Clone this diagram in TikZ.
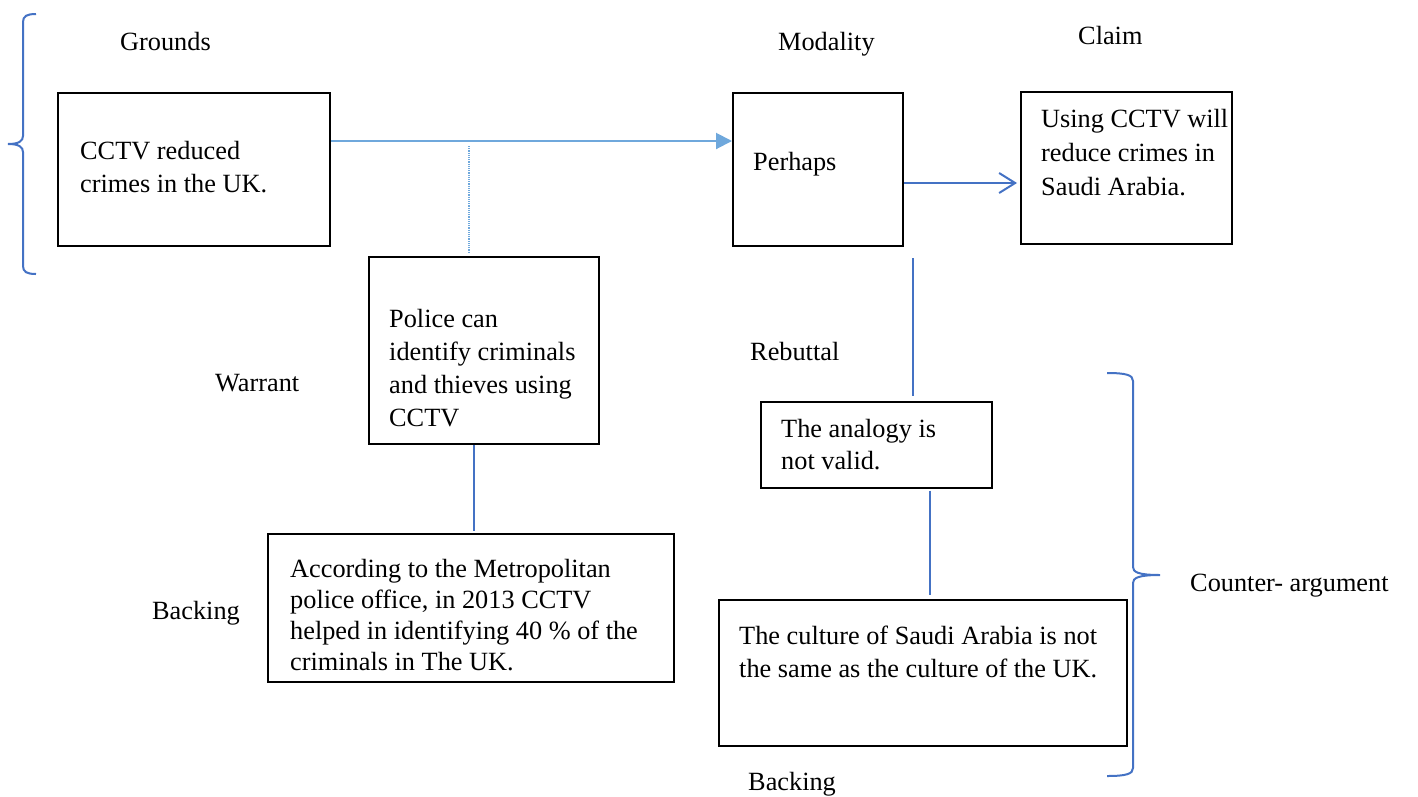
\documentclass[tikz,border=0pt]{standalone}
\usepackage{fontspec}
\setmainfont{Liberation Serif}
\usetikzlibrary{arrows.meta}

\definecolor{linkblue}{HTML}{4472C4}
\definecolor{flowblue}{HTML}{6FA8DC}

\begin{document}
\begin{tikzpicture}[x=1pt,y=-1pt,
  every node/.style={font=\fontsize{26.3}{33}\selectfont, inner sep=0pt},
  box/.style={draw=black, line width=2pt, minimum width=#1},
  % multi-line texts are placed by the baseline of their last line
  txt/.style={anchor=base west, align=left},
  lbl/.style={anchor=base west},
  flow/.style={draw=flowblue, line width=2pt, -{Triangle[length=16pt,width=16pt]}},
  hint/.style={draw=flowblue, line width=1.2pt, densely dotted},
  link/.style={draw=linkblue, line width=2pt},
  openarrow/.style={draw=linkblue, line width=2pt, -{Straight Barb[length=16pt,width=20pt,line width=2pt]}},
  bracket/.style={draw=linkblue, line width=2pt}
]
\useasboundingbox (0,0) rectangle (1418,796);

% boxes
\node[box=272pt, minimum height=153pt] (g)  at (194,169.5) {};
\node[box=170pt, minimum height=153pt] (m)  at (818,169.5) {};
\node[box=211pt, minimum height=152pt] (c)  at (1126.5,168) {};
\node[box=230pt, minimum height=187pt] (w)  at (484,350.5) {};
\node[box=406pt, minimum height=148pt] (b)  at (471,608) {};
\node[box=231pt, minimum height=86pt]  (r)  at (876.5,444.5) {};
\node[box=408pt, minimum height=146pt] (b2) at (923,673) {};

% box texts
\node[txt] (gt) at (80,192) {CCTV reduced\\crimes in the UK.};
\node[txt] (mt) at (753,170) {Perhaps};
\node[txt, font=\fontsize{26.3}{34}\selectfont] (ct) at (1041,195) {Using CCTV will\\reduce crimes in\\Saudi Arabia.};
\node[txt] (wt) at (389,426) {Police can\\identify criminals\\and thieves using\\CCTV};
\node[txt, font=\fontsize{26.3}{31}\selectfont] (bt) at (290,670) {According to the Metropolitan\\police office, in 2013 CCTV\\helped in identifying 40 \% of the\\criminals in The UK.};
\node[txt, font=\fontsize{26.3}{32}\selectfont] (rt) at (781,469) {The analogy is\\not valid.};
\node[txt] (b2t) at (739,677) {The culture of Saudi Arabia is not\\the same as the culture of the UK.};

% labels
\node[lbl] (lg)  at (120,50)  {Grounds};
\node[lbl] (lm)  at (778,50)  {Modality};
\node[lbl] (lc)  at (1078,44) {Claim};
\node[lbl] (lw)  at (215,391) {Warrant};
\node[lbl] (lr)  at (750,360) {Rebuttal};
\node[lbl] (lb)  at (152,619) {Backing};
\node[lbl] (lb2) at (748,790) {Backing};
\node[lbl] (lca) at (1190,591) {Counter- argument};

% connectors
\draw[flow] ([yshift=28.5pt]g.east) -- ([yshift=28.5pt]m.west);
\coordinate (wj) at (469,146);
\draw[hint] (wj) -- ([xshift=-15pt,yshift=3pt]w.north);
\draw[openarrow, shorten >=3pt] ([yshift=-13.5pt]m.east) -- ([yshift=-13.5pt]m.east -| c.west);
\draw[link, shorten <=11pt, shorten >=5pt] ([xshift=95pt]m.south) -- ([xshift=95pt]m.south |- r.north);
\draw[link, shorten >=2pt] ([xshift=-10pt]w.south) -- ([xshift=-10pt]w.south |- b.north);
\draw[link, shorten <=2pt, shorten >=4pt] ([xshift=53.5pt]r.south) -- ([xshift=53.5pt]r.south |- b2.north);

% grounds bracket
\draw[bracket] (36,14) .. controls (27,14) and (23,16) .. (23,22) -- (23,136)
  .. controls (23,141) and (19,144) .. (8,144)
  .. controls (19,144) and (23,147) .. (23,152) -- (23,266)
  .. controls (23,272) and (27,274) .. (36,274);

% counter-argument bracket
\draw[bracket] (1107,373) .. controls (1126,373) and (1133,375) .. (1133,381) -- (1133,567)
  .. controls (1133,572) and (1138,575) .. (1160,575)
  .. controls (1138,575) and (1133,578) .. (1133,583) -- (1133,768)
  .. controls (1133,774) and (1126,776) .. (1107,776);
\end{tikzpicture}
\end{document}
